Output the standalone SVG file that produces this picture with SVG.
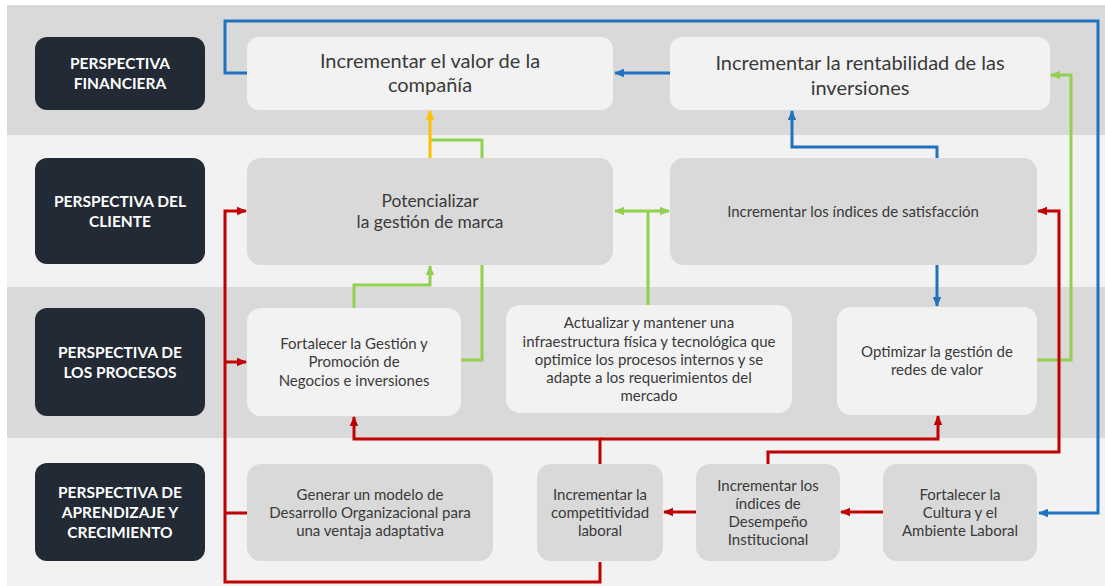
<svg xmlns="http://www.w3.org/2000/svg" width="1105" height="586" viewBox="0 0 1105 586">
<defs>
<style>
.lbl rect{fill:#222a35}
.lbl text{fill:#ffffff;font-family:Lato,"Open Sans","Liberation Sans",sans-serif;font-weight:bold;font-size:15.5px;text-anchor:middle}
.nd text{fill:#3a3a3a;font-family:Lato,"Open Sans","Liberation Sans",sans-serif;text-anchor:middle;font-size:15px}
.nd text.xl{font-size:20px}
.nd text.l{font-size:17.4px}
.lt rect{fill:#f2f2f2}
.dk rect{fill:#d9d9d9}
.c{fill:none;stroke-width:3;stroke-linejoin:miter}
.b{stroke:#1f72c0}
.g{stroke:#92d050}
.r{stroke:#c00000}
.y{stroke:#ffc000}
</style>
<marker id="ab" markerUnits="userSpaceOnUse" markerWidth="10" markerHeight="10" refX="9" refY="5" orient="auto-start-reverse"><path d="M0,0.8 L10,5 L0,9.2 Z" fill="#1f72c0"/></marker>
<marker id="ag" markerUnits="userSpaceOnUse" markerWidth="10" markerHeight="10" refX="9" refY="5" orient="auto-start-reverse"><path d="M0,0.8 L10,5 L0,9.2 Z" fill="#92d050"/></marker>
<marker id="ar" markerUnits="userSpaceOnUse" markerWidth="10" markerHeight="10" refX="9" refY="5" orient="auto-start-reverse"><path d="M0,0.8 L10,5 L0,9.2 Z" fill="#c00000"/></marker>
<marker id="ay" markerUnits="userSpaceOnUse" markerWidth="10" markerHeight="10" refX="9" refY="5" orient="auto-start-reverse"><path d="M0,0.8 L10,5 L0,9.2 Z" fill="#ffc000"/></marker>
</defs>
<rect x="0" y="0" width="1105" height="586" fill="#ffffff"/>
<g id="bands">
<rect x="7" y="5" width="1098" height="130" fill="#d9d9d9"/>
<rect x="7" y="135" width="1098" height="152" fill="#f2f2f2"/>
<rect x="7" y="287" width="1098" height="151" fill="#d9d9d9"/>
<rect x="7" y="438" width="1098" height="148" fill="#f2f2f2"/>
</g>
<g id="connectors">
<path class="c b" d="M248,73 H225 V21 H1098 V513 H1039" marker-end="url(#ab)"/>
<path class="c b" d="M670,73 H615" marker-end="url(#ab)"/>
<path class="c b" d="M937,158 V147 H792 V111" marker-end="url(#ab)"/>
<path class="c b" d="M937,265 V306" marker-end="url(#ab)"/>
<path class="c g" d="M461,360 H482 V140 H430"/>
<path class="c y" d="M430,158 V111" marker-end="url(#ay)"/>
<path class="c g" d="M354,308 V285 H430 V266" marker-end="url(#ag)"/>
<path class="c g" d="M615,211 H669" marker-start="url(#ag)" marker-end="url(#ag)"/>
<path class="c g" d="M648,305 V211"/>
<path class="c g" d="M1037,360 H1071 V75 H1051" marker-end="url(#ag)"/>
<path class="c r" d="M247,513 H225"/>
<path class="c r" d="M600,562 V582 H225 V211 H246" marker-end="url(#ar)"/>
<path class="c r" d="M225,362 H246" marker-end="url(#ar)"/>
<path class="c r" d="M600,464 V439 H354 V417" marker-end="url(#ar)"/>
<path class="c r" d="M600,439 H938 V416" marker-end="url(#ar)"/>
<path class="c r" d="M768,464 V452 H1059 V211 H1038" marker-end="url(#ar)"/>
<path class="c r" d="M883,512 H841" marker-end="url(#ar)"/>
<path class="c r" d="M696,512 H664" marker-end="url(#ar)"/>
</g>
<g id="label-financiera" class="lbl"><rect x="35" y="37" width="170" height="73" rx="12"/><text x="120" y="69">PERSPECTIVA</text><text x="120" y="89">FINANCIERA</text></g>
<g id="label-cliente" class="lbl"><rect x="35" y="158" width="170" height="106" rx="12"/><text x="120" y="207">PERSPECTIVA DEL</text><text x="120" y="227">CLIENTE</text></g>
<g id="label-procesos" class="lbl"><rect x="35" y="308" width="170" height="108" rx="12"/><text x="120" y="358">PERSPECTIVA DE</text><text x="120" y="378">LOS PROCESOS</text></g>
<g id="label-aprendizaje" class="lbl"><rect x="35" y="463" width="170" height="98" rx="12"/><text x="120" y="498">PERSPECTIVA DE</text><text x="120" y="518">APRENDIZAJE Y</text><text x="120" y="538">CRECIMIENTO</text></g>
<g id="n-valor" class="nd lt"><rect x="247" y="37" width="366" height="73" rx="12"/><text class="xl" x="430" y="68">Incrementar el valor de la</text><text class="xl" x="430" y="92">compañía</text></g>
<g id="n-rentabilidad" class="nd lt"><rect x="670" y="37" width="380" height="73" rx="12"/><text class="xl" x="860" y="70">Incrementar la rentabilidad de las</text><text class="xl" x="860" y="95">inversiones</text></g>
<g id="n-marca" class="nd dk"><rect x="247" y="158" width="366" height="107" rx="14"/><text class="l" x="430" y="207">Potencializar</text><text class="l" x="430" y="228">la gestión de marca</text></g>
<g id="n-satisfaccion" class="nd dk"><rect x="670" y="158" width="367" height="107" rx="14"/><text x="853" y="217">Incrementar los índices de satisfacción</text></g>
<g id="n-gestion" class="nd lt"><rect x="247" y="308" width="214" height="108" rx="14"/><text x="354" y="349">Fortalecer la Gestión y</text><text x="354" y="367">Promoción de</text><text x="354" y="386">Negocios e inversiones</text></g>
<g id="n-infraestructura" class="nd lt"><rect x="506" y="305" width="286" height="108" rx="14"/><text x="649" y="328">Actualizar y mantener una</text><text x="649" y="347">infraestructura física y tecnológica que</text><text x="649" y="365">optimice los procesos internos y se</text><text x="649" y="383">adapte a los requerimientos del</text><text x="649" y="401">mercado</text></g>
<g id="n-redes" class="nd lt"><rect x="837" y="307" width="200" height="108" rx="14"/><text x="937" y="357">Optimizar la gestión de</text><text x="937" y="375">redes de valor</text></g>
<g id="n-desarrollo" class="nd dk"><rect x="247" y="464" width="246" height="97" rx="14"/><text x="370" y="500">Generar un modelo de</text><text x="370" y="518">Desarrollo Organizacional para</text><text x="370" y="536">una ventaja adaptativa</text></g>
<g id="n-competitividad" class="nd dk"><rect x="537" y="464" width="126" height="97" rx="14"/><text x="600" y="500">Incrementar la</text><text x="600" y="518">competitividad</text><text x="600" y="536">laboral</text></g>
<g id="n-desempeno" class="nd dk"><rect x="696" y="464" width="144" height="97" rx="14"/><text x="768" y="491">Incrementar los</text><text x="768" y="509">índices de</text><text x="768" y="527">Desempeño</text><text x="768" y="545">Institucional</text></g>
<g id="n-cultura" class="nd dk"><rect x="883" y="464" width="154" height="97" rx="14"/><text x="960" y="500">Fortalecer la</text><text x="960" y="518">Cultura y el</text><text x="960" y="536">Ambiente Laboral</text></g>
</svg>
